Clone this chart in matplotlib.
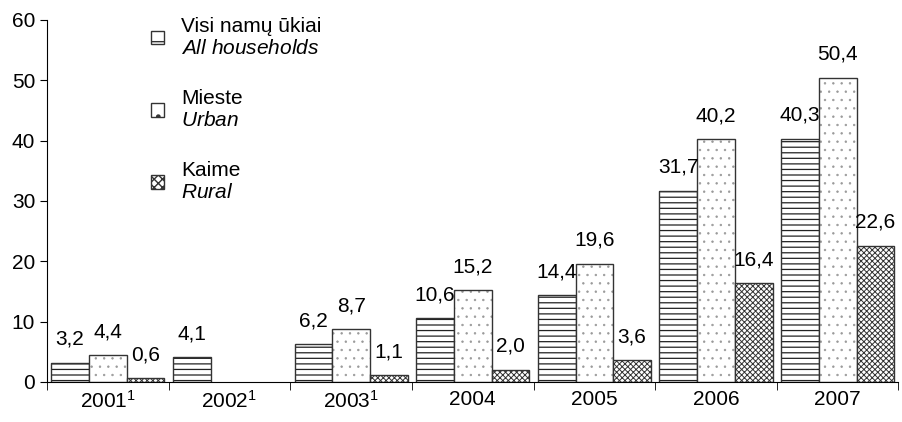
import numpy as np
import matplotlib
matplotlib.use('Agg')
import matplotlib.pyplot as plt

plt.rcParams['font.family'] = ['Liberation Sans', 'DejaVu Sans']
plt.rcParams['mathtext.fontset'] = 'custom'
plt.rcParams['mathtext.rm'] = 'Liberation Sans'
plt.rcParams['mathtext.it'] = 'Liberation Sans:italic'

# Данные
years = ['2001$^1$', '2002$^1$', '2003$^1$', '2004', '2005', '2006', '2007']
all_households = [3.2, 4.1, 6.2, 10.6, 14.4, 31.7, 40.3]
urban = [4.4, np.nan, 8.7, 15.2, 19.6, 40.2, 50.4]
rural = [0.6, np.nan, 1.1, 2.0, 3.6, 16.4, 22.6]
labels = ['Visi namų ūkiai\n$\\it{All\\ households}$',
          'Mieste\n$\\it{Urban}$',
          'Kaime\n$\\it{Rural}$']

FS = 15
fig = plt.figure(figsize=(9.03, 4.22), dpi=100)
ax = fig.add_axes([0.052, 0.095, 0.943, 0.858])

x = np.arange(len(years))
w = 0.31
series = [all_households, urban, rural]
hatches = ['---', '..', 'xxxxxx']
hatch_cols = ['#222222', '#999999', '#333333']
hatch_lw = [0.9, 0.5, 0.7]
for i, (vals, h, hc, hl) in enumerate(zip(series, hatches, hatch_cols, hatch_lw)):
    pos = x + (i - 1) * w
    # заливка штриховкой
    with plt.rc_context({'hatch.linewidth': hl}):
        ax.bar(pos, vals, w, color='white', edgecolor=hc, hatch=h, linewidth=0)
    # контур
    ax.bar(pos, vals, w, color='none', edgecolor='#333333', linewidth=1.0)
    for xi, v in zip(pos, vals):
        if np.isnan(v):
            continue
        ax.annotate(f'{v:.1f}'.replace('.', ','), (xi, v),
                    xytext=(0, 10), textcoords='offset points',
                    ha='center', va='bottom', fontsize=FS)

# легенда
handles = []
for h, hl in zip(['-', '.', 'xxxx'], [0.8, 0.5, 0.6]):
    with plt.rc_context({'hatch.linewidth': hl}):
        handles.append(plt.Rectangle((0, 0), 1, 1, facecolor='white',
                                     edgecolor='#333333', hatch=h, linewidth=1.0))
ax.legend(handles, labels, loc='upper left', bbox_to_anchor=(0.1, 1.06),
          frameon=False, fontsize=FS, labelspacing=1.5, handlelength=0.65,
          handleheight=0.65, handletextpad=0.8)

ax.set_xlim(-0.5, len(years) - 0.5)
ax.set_ylim(0, 60)
ax.set_yticks(range(0, 61, 10))
ax.tick_params(axis='y', labelsize=FS, length=5)
ax.set_xticks(x)
ax.set_xticklabels(years, fontsize=FS)
ax.tick_params(axis='x', length=0, pad=6)
ax.set_xticks(np.arange(-0.5, len(years)), minor=True)
ax.tick_params(axis='x', which='minor', length=6)
for s in ['top', 'right']:
    ax.spines[s].set_visible(False)

fig.savefig('out.png', dpi=100)
